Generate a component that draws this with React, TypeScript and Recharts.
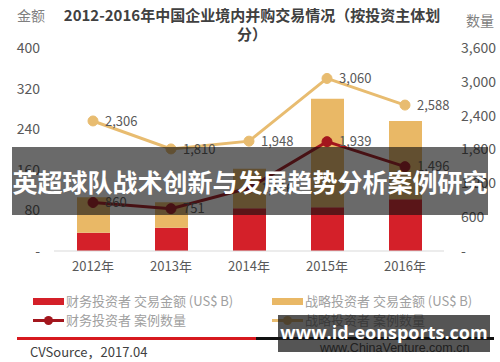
import React from 'react';
import { ComposedChart, Bar, Line, XAxis, YAxis, LabelList } from 'recharts';

const years = ['2012年', '2013年', '2014年', '2015年', '2016年'];
const finAmount = [36, 46, 84, 86, 102];
const strAmount = [70, 50, 78, 214, 154];
const finCount = [860, 751, 1116, 1939, 1496];
const strCount = [2306, 1810, 1948, 3060, 2588];
const leftTicks = [0, 80, 160, 240, 320, 400];
const rightTicks = [0, 600, 1200, 1800, 2400, 3000, 3600];

const data = years.map((y, i) => ({
  year: y,
  finAmount: finAmount[i],
  strAmount: strAmount[i],
  finCount: finCount[i],
  strCount: strCount[i],
}));

const RED = '#d42029';
const GOLD = '#e9b866';
const DARKRED = '#a3161d';
const GOLDLINE = '#e8bc70';
const FONT = '"Noto Sans CJK SC", "Liberation Sans", Arial, sans-serif';

const fmt = (v: number) => (v === 0 ? '-' : v.toLocaleString('en-US'));

export default function App() {
  return (
    <div style={{ position: 'absolute', left: 0, top: 0, width: 500, height: 362, background: '#fff', overflow: 'hidden', fontFamily: FONT }}>
      <div style={{ position: 'absolute', left: 17, top: 5, fontSize: 14, color: '#7f7f7f', lineHeight: '20px' }}>金额</div>
      <div style={{ position: 'absolute', left: 466, top: 10, fontSize: 14, color: '#7f7f7f', lineHeight: '20px' }}>数量</div>
      <div style={{ position: 'absolute', left: 0, width: 504, top: 5, textAlign: 'center', fontSize: 15, fontWeight: 700, color: '#404040', lineHeight: '19px' }}>
        2012-2016年中国企业境内并购交易情况（按投资主体划
        <br />
        分）
      </div>
      <div style={{ position: 'absolute', left: 0, top: 0 }}>
        <ComposedChart
          width={500}
          height={290}
          data={data}
          margin={{ top: 48, right: 16, left: 14, bottom: 9 }}
          barCategoryGap={0}
        >
          <XAxis
            dataKey="year"
            axisLine={{ stroke: '#d9d9d9' }}
            tickLine={false}
            tickSize={0}
            tickMargin={11}
            height={30}
            tick={{ fill: '#595959', fontSize: 13, fontFamily: FONT }}
          />
          <YAxis
            yAxisId="left"
            orientation="left"
            domain={[0, 400]}
            ticks={leftTicks}
            tickFormatter={fmt}
            axisLine={false}
            tickLine={false}
            tickSize={0}
            tickMargin={14}
            width={40}
            tick={{ fill: '#595959', fontSize: 14, fontFamily: FONT }}
          />
          <YAxis
            yAxisId="right"
            orientation="right"
            domain={[0, 3600]}
            ticks={rightTicks}
            tickFormatter={fmt}
            axisLine={false}
            tickLine={false}
            tickSize={0}
            tickMargin={17}
            width={40}
            tick={{ fill: '#595959', fontSize: 14, fontFamily: FONT }}
          />
          <Bar yAxisId="left" dataKey="finAmount" stackId="a" fill={RED} barSize={33} isAnimationActive={false} />
          <Bar yAxisId="left" dataKey="strAmount" stackId="a" fill={GOLD} barSize={33} isAnimationActive={false} />
          <Line
            yAxisId="right"
            dataKey="strCount"
            stroke={GOLDLINE}
            strokeWidth={3}
            dot={{ r: 5, fill: GOLDLINE, stroke: GOLDLINE, strokeWidth: 1 }}
            isAnimationActive={false}
          >
            <LabelList dataKey="strCount" position="right" offset={12} formatter={(v: any) => fmt(Number(v))} style={{ fill: '#595959', fontSize: 13, fontFamily: FONT }} />
          </Line>
          <Line
            yAxisId="right"
            dataKey="finCount"
            stroke={DARKRED}
            strokeWidth={3}
            dot={{ r: 5, fill: DARKRED, stroke: DARKRED, strokeWidth: 1 }}
            isAnimationActive={false}
          >
            <LabelList dataKey="finCount" position="right" offset={12} formatter={(v: any) => fmt(Number(v))} style={{ fill: '#595959', fontSize: 13, fontFamily: FONT }} />
          </Line>
        </ComposedChart>
      </div>

      {/* legend */}
      <div style={{ position: 'absolute', left: 33, top: 298, width: 31, height: 7, background: RED }} />
      <div style={{ position: 'absolute', left: 66, top: 292, fontSize: 13, color: '#a0a0a0', lineHeight: '18px', whiteSpace: 'nowrap' }}>财务投资者 交易金额 (US$ B)</div>
      <div style={{ position: 'absolute', left: 272, top: 298, width: 31, height: 7, background: GOLD }} />
      <div style={{ position: 'absolute', left: 305, top: 292, fontSize: 13, color: '#a0a0a0', lineHeight: '18px', whiteSpace: 'nowrap' }}>战略投资者 交易金额 (US$ B)</div>

      <div style={{ position: 'absolute', left: 33, top: 319, width: 31, height: 3, background: DARKRED }} />
      <div style={{ position: 'absolute', left: 44, top: 316, width: 9, height: 9, borderRadius: 5, background: DARKRED }} />
      <div style={{ position: 'absolute', left: 66, top: 311, fontSize: 13, color: '#a0a0a0', lineHeight: '18px', whiteSpace: 'nowrap' }}>财务投资者 案例数量</div>
      <div style={{ position: 'absolute', left: 272, top: 319, width: 31, height: 3, background: GOLDLINE }} />
      <div style={{ position: 'absolute', left: 283, top: 316, width: 9, height: 9, borderRadius: 5, background: GOLDLINE }} />
      <div style={{ position: 'absolute', left: 305, top: 311, fontSize: 13, color: '#a0a0a0', lineHeight: '18px', whiteSpace: 'nowrap' }}>战略投资者 案例数量</div>

      {/* footer */}
      <div style={{ position: 'absolute', left: 17, top: 337, width: 239, height: 3, background: '#d7191f' }} />
      <div style={{ position: 'absolute', left: 256, top: 337, width: 238, height: 3, background: '#111' }} />
      <div style={{ position: 'absolute', left: 30, top: 343, fontSize: 13, color: '#404040', lineHeight: '18px', whiteSpace: 'nowrap' }}>CVSource，2017.04</div>
      <div style={{ position: 'absolute', left: 320, top: 340, fontSize: 12.5, color: '#404040', lineHeight: '16px', whiteSpace: 'nowrap', fontFamily: '"Liberation Sans", Arial, sans-serif' }}>www.ChinaVenture.com.cn</div>

      {/* overlays */}
      <div style={{ position: 'absolute', left: 12, top: 147, width: 476, height: 68, background: 'rgba(15,15,15,0.62)', display: 'flex', alignItems: 'center', justifyContent: 'center' }}>
        <span style={{ color: '#fff', fontSize: 25, fontWeight: 700, whiteSpace: 'nowrap', letterSpacing: 0 }}>英超球队战术创新与发展趋势分析案例研究</span>
      </div>
      <div style={{ position: 'absolute', left: 278, top: 315, width: 212, height: 37, background: 'rgba(20,20,20,0.72)', display: 'flex', alignItems: 'center', justifyContent: 'center' }}>
        <span style={{ color: '#fff', fontSize: 18, fontWeight: 700, whiteSpace: 'nowrap', fontFamily: '"Open Sans", "Noto Sans", sans-serif', marginTop: -3 }}>www.id-eonsports.com</span>
      </div>
    </div>
  );
}
